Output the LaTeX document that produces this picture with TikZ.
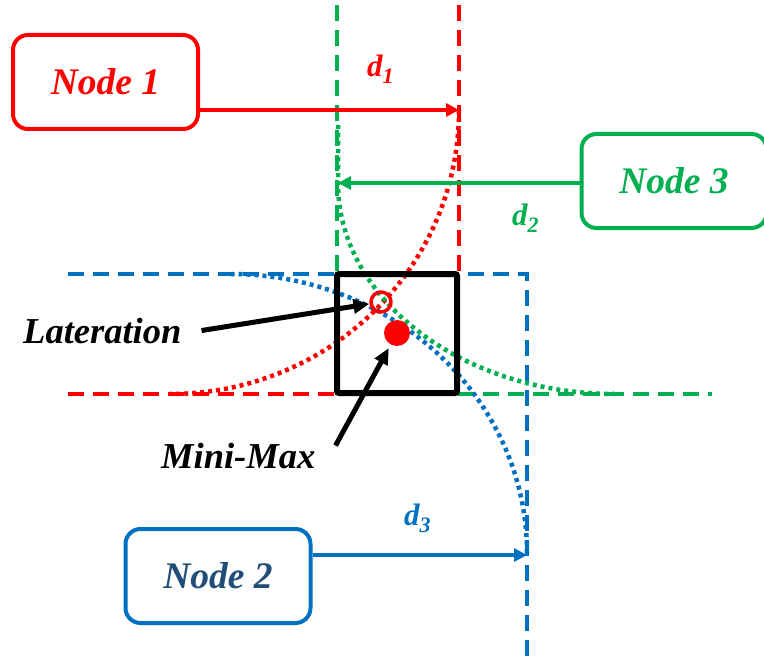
\documentclass[tikz,border=0pt]{standalone}
\usepackage{fontspec}
\setmainfont{Liberation Serif}
\usetikzlibrary{arrows.meta}
\definecolor{cred}{RGB}{255,0,0}
\definecolor{cgreen}{RGB}{0,176,80}
\definecolor{cblue}{RGB}{0,112,192}
\definecolor{cnavy}{RGB}{31,78,121}
\newcommand\dlab[1]{\fontsize{31}{32}\selectfont\bfseries\itshape d\raisebox{-7pt}{\fontsize{22}{22}\selectfont #1}}
\begin{document}
\begin{tikzpicture}[x=1pt,y=-1pt,
  box/.style={draw, line width=4pt, rounded corners=15pt, minimum width=185pt, minimum height=94pt,
    font=\fontsize{37.5}{40}\selectfont\bfseries\itshape, inner sep=0pt},
  dsh/.style={line width=4pt, dash pattern=on 16pt off 9pt},
  dotl/.style={line width=4.5pt, dash pattern=on 4pt off 4pt},
  conn/.style={line width=4pt, -{Triangle[length=13pt,width=13pt]}},
  pointer/.style={line width=5pt, -{Triangle[length=16pt,width=14pt]}},
  lbl/.style={font=\fontsize{36.5}{38}\selectfont\bfseries\itshape, inner sep=0pt, anchor=base west},
  dtext/.style={inner sep=0pt, anchor=base west}
]
\useasboundingbox (0,0) rectangle (764,661);

% dashed reference lines
\draw[dsh,cgreen] (337,5) -- (337,273);
\draw[dsh,cred] (459,5) -- (459,273);
\draw[dsh,cred] (68,394) -- (336,394);
\draw[dsh,cgreen] (458,394) -- (712,394);
\draw[dsh,cblue] (68,274) -- (527,274) -- (527,661);

% dotted range arcs
\draw[dotl,cred] (459,110) .. controls (459,267) and (330,394) .. (170,394);
\draw[dotl,cgreen] (338,125) -- (338,183) .. controls (338,299) and (462,394) .. (615,394);
\draw[dotl,cblue] (527,553) .. controls (527,399) and (394,274) .. (230,274);

% Mini-Max box
\draw[line width=6pt, rounded corners=2pt] (337,274) rectangle (457,393);

% nodes
\node[box, cred] (n1) at (105.5,82) {Node 1};
\node[box, cgreen] (n3) at (674,181) {Node 3};
\node[box, cblue, text=cnavy] (n2) at (218,576) {Node 2};

\coordinate (t1) at (459,110);
\coordinate (t2) at (338,183);
\coordinate (t3) at (527,555);
\draw[conn,cred] (n1.east |- t1) -- (t1);
\draw[conn,cgreen] (n3.west |- t2) -- (t2);
\draw[conn,cblue] (n2.east |- t3) -- (t3);

% distance labels
\node[dtext, text=cred] (d1) at (367,77) {\dlab{1}};
\node[dtext, text=cgreen] (d2) at (512,225) {\dlab{2}};
\node[dtext, text=cblue] (d3) at (404,525) {\dlab{3}};

% estimates
\node[circle, draw=cred, line width=3.5pt, minimum size=20pt, inner sep=0pt] (lat) at (381,302) {};
\node[circle, fill=cred, minimum size=26pt, inner sep=0pt] (mm) at (397,333) {};

\node[lbl] (latl) at (23,343) {Lateration};
\node[lbl] (mml) at (161,468) {Mini-Max};

\draw[pointer] ([xshift=20pt]latl.east) -- (lat);
\draw[pointer, shorten >=4pt] ([shift={(20,-10)}]mml.east) -- (mm);
\end{tikzpicture}
\end{document}
